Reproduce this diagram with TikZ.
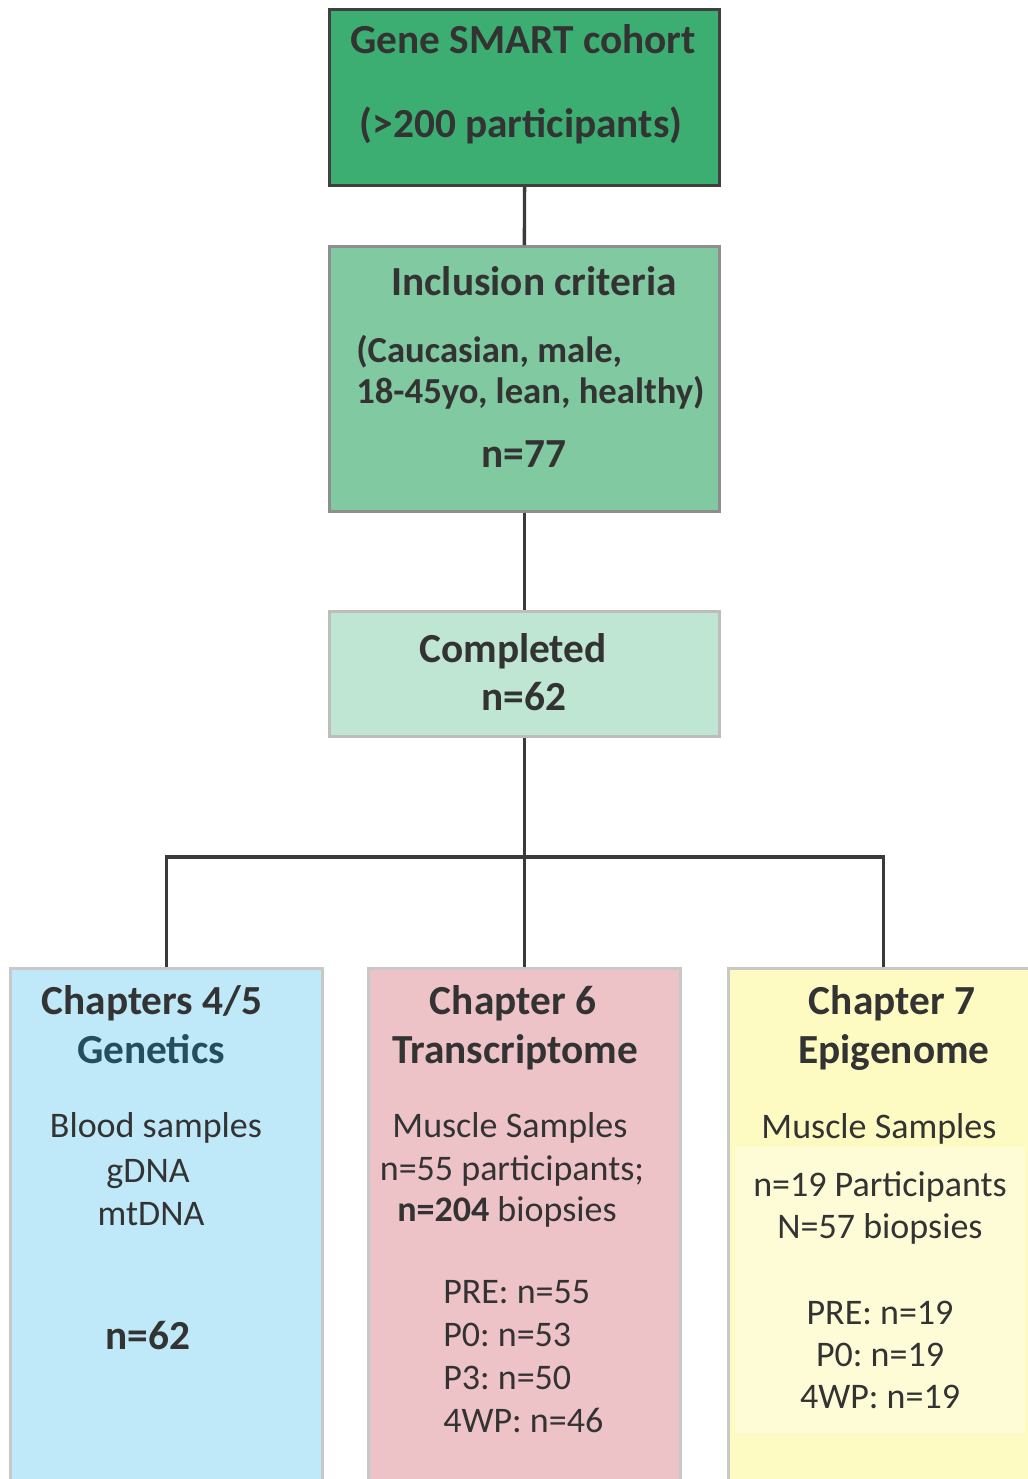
\documentclass[tikz,border=0pt]{standalone}
\usepackage{fontspec}
\setmainfont{Carlito}
\frenchspacing
\usetikzlibrary{positioning}

\definecolor{inkgray}{HTML}{333333}
\definecolor{linkgray}{HTML}{3A3A3A}
\definecolor{cohortfill}{HTML}{3DAE72}
\definecolor{cohortedge}{HTML}{404040}
\definecolor{criteriafill}{HTML}{80C9A1}
\definecolor{criteriaedge}{HTML}{8E8E8E}
\definecolor{donefill}{HTML}{BFE5D3}
\definecolor{doneedge}{HTML}{BDBDBD}
\definecolor{genfill}{HTML}{BFE9F9}
\definecolor{transfill}{HTML}{EEC3C8}
\definecolor{epifill}{HTML}{FEFBC2}
\definecolor{epiglow}{HTML}{FEFCD7}
\definecolor{chapedge}{HTML}{C8C8C8}
\definecolor{genink}{HTML}{234E5E}

\tikzset{
  box/.style={draw, line width=2pt, anchor=north west, inner sep=0pt},
  link/.style={draw=linkgray, line width=2.5pt},
  head/.style={font=\fontsize{31}{36}\selectfont\bfseries, text=inkgray, anchor=base, inner sep=0pt},
  subhead/.style={font=\fontsize{27.5}{32}\selectfont\bfseries, text=inkgray, anchor=base west, inner sep=0pt},
  body/.style={font=\fontsize{27}{32}\selectfont, text=inkgray, anchor=base, inner sep=0pt},
  bodyleft/.style={body, anchor=base west}
}

\begin{document}
\begin{tikzpicture}[x=0.75pt, y=-0.75pt]
\useasboundingbox (0,0) rectangle (1028,1479);
\clip (0,0) rectangle (1028,1479);

%% boxes
\node[box, fill=cohortfill, draw=cohortedge, line width=2.4pt, minimum width=292.5pt, minimum height=132pt] (cohort) at (328,8) {};
\node[box, fill=criteriafill, draw=criteriaedge, minimum width=292.5pt, minimum height=198.75pt] (criteria) at (328,245) {};
\node[box, fill=donefill, draw=doneedge, minimum width=292.5pt, minimum height=93.75pt] (done) at (328,610) {};
\node[box, fill=genfill, draw=chapedge, minimum width=234pt, minimum height=397.5pt] (gen) at (9,967) {};
\node[box, fill=transfill, draw=chapedge, minimum width=234pt, minimum height=397.5pt] (trans) at (367,967) {};
\node[box, fill=epifill, draw=chapedge, minimum width=232.5pt, minimum height=397.5pt] (epi) at (727,967) {};
\node[anchor=north west, fill=epiglow, minimum width=217.5pt, minimum height=214.5pt, inner sep=0pt] (glow) at (735,1147) {};

%% links
\coordinate (forkrow) at (0,857);
\draw[link] (cohort.south) -- (criteria.north);
\draw[link] (criteria.south) -- (done.north);
\draw[link] (done.south) -- (trans.north);
\draw[link] (gen.north) |- (forkrow -| epi.north) -- (epi.north);

%% top texts
\node[head] (cohorttitle) at (523,53) {Gene SMART cohort};
\node[head] (cohortsize) at (521,137) {(>200 participants)};

\node[head] (criteriatitle) at (534,295) {Inclusion criteria};
\node[subhead] (criterialine1) at (356,362) {(Caucasian, male,};
\node[subhead] (criterialine2) at (356,403) {18-45yo, lean, healthy)};
\node[head] (criteriasize) at (524,467) {n=77};

\node[head] (donetitle) at (513,662) {Completed};
\node[head] (donesize) at (524,710) {n=62};

%% genetics
\node[head] (gentitle) at (152,1014) {Chapters 4/5};
\node[head, text=genink] (gensub) at (151,1063) {Genetics};
\node[body] (genline1) at (156,1137) {Blood samples};
\node[body] (genline2) at (148,1182) {gDNA};
\node[body] (genline3) at (151,1225) {mtDNA};
\node[head] (gensize) at (148,1349) {n=62};

%% transcriptome
\node[head] (transtitle) at (513,1014) {Chapter 6};
\node[head] (transsub) at (515,1063) {Transcriptome};
\node[body] (transline1) at (510,1137) {Muscle Samples};
\node[body] (transline2) at (512,1180) {n=55 participants;};
\node[body] (transline3) at (507,1221) {\textbf{n=204} biopsies};
\node[bodyleft] (transpre) at (443,1303) {PRE: n=55};
\node[bodyleft] (transpzero) at (443,1346) {P0: n=53};
\node[bodyleft] (transpthree) at (443,1389) {P3: n=50};
\node[bodyleft] (transfour) at (443,1432) {4WP: n=46};

%% epigenome
\node[head] (epititle) at (892,1014) {Chapter 7};
\node[head] (episub) at (894,1063) {Epigenome};
\node[body] (epiline1) at (879,1138) {Muscle Samples};
\node[body] (epiline2) at (880,1196) {n=19 Participants};
\node[body] (epiline3) at (880,1238) {N=57 biopsies};
\node[body] (epipre) at (880,1324) {PRE: n=19};
\node[body] (epipzero) at (880,1366) {P0: n=19};
\node[body] (epifour) at (880,1408) {4WP: n=19};
\end{tikzpicture}
\end{document}
